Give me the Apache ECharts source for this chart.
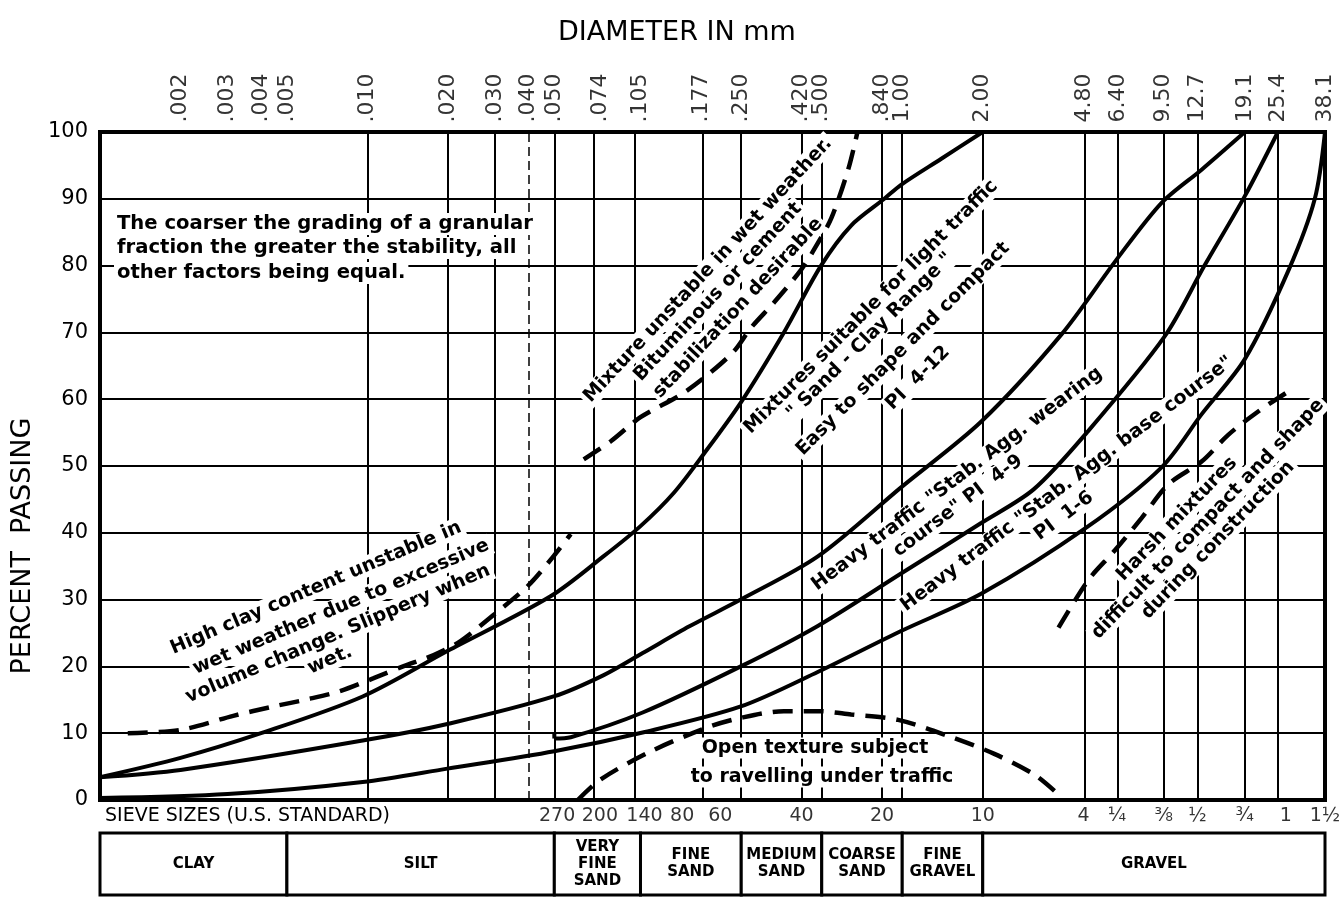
<!DOCTYPE html>
<html>
<head>
<meta charset="utf-8">
<title>Grading chart</title>
<script src="https://cdn.jsdelivr.net/npm/echarts@6/dist/echarts.min.js"></script>
<style>
  html, body { margin: 0; padding: 0; background: #fff; }
  #chart { width: 1343px; height: 897px; }
</style>
</head>
<body>
<div id="chart"></div>
<script>
// diameters (mm) marked along the top, one gridline each
const diameters = [0.002, 0.003, 0.004, 0.005, 0.010, 0.020, 0.030, 0.040, 0.050, 0.074, 0.105, 0.177,
  0.250, 0.420, 0.500, 0.840, 1.00, 2.00, 4.80, 6.40, 9.50, 12.7, 19.1, 25.4, 38.1]
const diameterLabels = ['.002', '.003', '.004', '.005', '.010', '.020', '.030', '.040', '.050', '.074', '.105', '.177',
  '.250', '.420', '.500', '.840', '1.00', '2.00', '4.80', '6.40', '9.50', '12.7', '19.1', '25.4', '38.1']

// U.S. standard sieves under the axis
const sieveDiameters = [0.053, 0.074, 0.105, 0.177, 0.250, 0.420, 0.840, 2.00, 4.76, 6.35, 9.5, 12.7, 19.1, 25.4, 38.1]
const sieveLabels = ['270', '200', '140', '80', '60', '40', '20', '10', '4', '¼', '⅜', '½', '¾', '1', '1½']

// soil classes in the strip below
const classBounds = [0.001, 0.005, 0.05, 0.105, 0.25, 0.5, 1.0, 2.0, 38.1]
const classNames = ['CLAY', 'SILT', 'VERY\nFINE\nSAND', 'FINE\nSAND', 'MEDIUM\nSAND', 'COARSE\nSAND', 'FINE\nGRAVEL', 'GRAVEL']

// curves: [diameter mm, percent passing]
const sandClayUpper = [[0.001, 3.4], [0.002, 6.3], [0.004, 10], [0.0096, 15.5], [0.0199, 22.3], [0.0484, 30.5],
  [0.0765, 36.5], [0.105, 41], [0.14, 46], [0.181, 51.8], [0.249, 59.5], [0.361, 70], [0.497, 80], [0.644, 86],
  [0.857, 90], [0.99, 92.1], [1.4, 96], [2.0, 100]]
const wearingUpper = [[0.001, 3.4], [0.002, 4.5], [0.0096, 8.9], [0.0205, 11.5], [0.0497, 15.5], [0.0765, 18.7],
  [0.107, 22], [0.16, 26], [0.249, 30], [0.485, 36.5], [0.99, 46.8], [1.98, 56.7], [3.94, 69.7], [6.33, 80.9],
  [9.33, 89.4], [13.2, 94.4], [19.1, 100]]
const wearingHook = [[0.05, 10], [0.05, 9.2]]
const wearingLower = [[0.05, 9.2], [0.0576, 9.4], [0.107, 13.1], [0.249, 20], [0.485, 26.1], [0.99, 33.9],
  [1.98, 41.5], [3.1, 46.5], [4.9, 55], [9.58, 69.4], [13.5, 80], [19.1, 90.4], [25.4, 100]]
const baseLower = [[0.001, 0.3], [0.003, 0.9], [0.0096, 2.7], [0.0199, 4.7], [0.05, 7.3], [0.107, 10.1],
  [0.249, 14], [0.485, 19.2], [0.99, 25.3], [1.98, 30.9], [4.89, 40.8], [9.33, 49.8], [13.2, 57.8],
  [19.1, 66], [27.9, 79.4], [34.9, 90], [38.1, 100]]
const highClay = [[0.00127, 10], [0.002, 10.5], [0.00315, 12.6], [0.00445, 14], [0.006, 15.1], [0.0079, 16.3],
  [0.0105, 18.2], [0.0136, 20], [0.0177, 21.7], [0.0223, 23.8], [0.0296, 27.7], [0.0397, 32],
  [0.0497, 36.5], [0.0576, 39.8]]
const wetUnstable = [[0.0644, 51], [0.0813, 53.7], [0.105, 57.3], [0.149, 60.7], [0.188, 63.7], [0.235, 67.2],
  [0.272, 70.7], [0.332, 74.5], [0.419, 79.4], [0.476, 82.9], [0.543, 87.1], [0.628, 94.4], [0.68, 100]]
const openTexture = [[0.0612, 0], [0.0746, 3.1], [0.115, 7.3], [0.188, 10.9], [0.249, 12.3], [0.361, 13.3],
  [0.485, 13.3], [0.644, 12.8], [0.966, 12], [1.53, 9.4], [2.21, 6.9], [3.12, 3.8], [3.77, 1.1]]
const harsh = [[3.84, 25.8], [4.98, 33], [6.22, 37.3], [7.85, 42.2], [9.92, 47.3], [13.2, 50.7],
  [16.6, 54.7], [21.5, 58.2], [27.9, 61.2]]

const FONT = '"DejaVu Sans", sans-serif'

// small sideways shifts of crowded sieve numbers, px
const sieveNudge = {'270': -4, '140': 4, '80': -19, '60': -21, '1': 8}

// hand lettering on the sheet (pixel placement, rotation in degrees)
const notes = [
  {t: 'The coarser the grading of a granular', x: 114, y: 224, r: 0, a: 'left', s: 19.6},
  {t: 'fraction the greater the stability, all', x: 114, y: 248, r: 0, a: 'left', s: 19.6},
  {t: 'other factors being equal.', x: 114, y: 273, r: 0, a: 'left', s: 19.6},
  {t: 'High clay content unstable in', x: 316, y: 588, r: 23},
  {t: 'wet weather due to excessive', x: 341, y: 607, r: 23},
  {t: 'volume change. Slippery when', x: 338, y: 634, r: 23},
  {t: 'wet.', x: 330, y: 660, r: 23},
  {t: 'Mixture unstable in wet weather.', x: 708, y: 270, r: 47},
  {t: 'Bituminous or cement', x: 718, y: 292, r: 47},
  {t: 'stabilization desirable', x: 738, y: 308, r: 47},
  {t: 'Mixtures suitable for light traffic', x: 871, y: 307, r: 45},
  {t: '" Sand - Clay Range "', x: 870, y: 336, r: 45},
  {t: 'Easy to shape and compact', x: 903, y: 349, r: 45},
  {t: 'PI  4-12', x: 918, y: 378, r: 45},
  {t: 'Heavy traffic "Stab. Agg. wearing', x: 957, y: 479, r: 37},
  {t: 'course" PI  4-9', x: 958, y: 506, r: 37},
  {t: 'Heavy traffic "Stab. Agg. base course"', x: 1067, y: 484, r: 37},
  {t: 'PI  1-6', x: 1064, y: 516, r: 37},
  {t: 'Harsh mixtures', x: 1177, y: 519, r: 46},
  {t: 'difficult to compact and shape', x: 1208, y: 519, r: 46},
  {t: 'during construction', x: 1218, y: 540, r: 46},
  {t: 'Open texture subject', x: 815, y: 748, r: 0},
  {t: 'to ravelling under traffic', x: 822, y: 777, r: 0}
]

const chart = echarts.init(document.getElementById('chart'))

function curve(data, dashed) {
  return {
    type: 'line', data: data, smooth: 0.3, symbol: 'none', z: 10,
    silent: true, animation: false,
    lineStyle: {color: '#000', width: dashed ? 4.5 : 4, type: dashed ? [20, 11] : 'solid', cap: 'butt'}
  }
}

const plainText = (text, x, y, rot, size, align) => ({
  type: 'text', x: x, y: y, rotation: rot * Math.PI / 180, z: 6, silent: true,
  style: {text: text, x: 0, y: 0, align: align, verticalAlign: 'middle', fill: '#000',
    fontSize: size, fontFamily: 'DejaVu Sans'}
})

const option = {
  animation: false,
  backgroundColor: '#fff',
  title: {
    text: 'DIAMETER IN mm', left: 553, top: 14,
    textStyle: {fontSize: 27, fontWeight: 'normal', fontFamily: FONT, color: '#000'}
  },
  grid: [
    {left: 100, top: 132, width: 1225, height: 668, show: true, borderColor: '#000', borderWidth: 4},
    {left: 100, top: 833, width: 1225, height: 62}
  ],
  xAxis: [
    {type: 'log', gridIndex: 0, min: 0.001, max: 38.1, axisLine: {show: false}, axisTick: {show: false},
      axisLabel: {show: false}, splitLine: {show: false}},
    {type: 'log', gridIndex: 1, min: 0.001, max: 38.1, show: false}
  ],
  yAxis: [
    {
      type: 'value', gridIndex: 0, min: 0, max: 100, interval: 10,
      axisLine: {show: false}, axisTick: {show: false},
      axisLabel: {fontSize: 21, fontFamily: FONT, color: '#000', margin: 12},
      splitLine: {show: true, lineStyle: {color: '#000', width: 2}}
    },
    {type: 'value', gridIndex: 1, min: 0, max: 1, show: false}
  ],
  graphic: {
    elements: notes.map(n => ({
      type: 'text', x: n.x, y: n.y, rotation: n.r * Math.PI / 180, z: 6, silent: true,
      style: {
        text: n.t, x: 0, y: 0, align: n.a || 'center', verticalAlign: 'middle', fill: '#000',
        fontSize: n.s || 19, fontWeight: 'bold', fontFamily: 'DejaVu Sans',
        backgroundColor: '#fff', padding: [1, 3]
      }
    })).concat([
      plainText('SIEVE SIZES (U.S. STANDARD)', 105, 816, 0, 19, 'left'),
      plainText('PERCENT  PASSING', 23, 546, 90, 27, 'center')
    ])
  },
  series: [
    // vertical gridlines at the marked diameters
    {
      type: 'line', data: [], silent: true,
      markLine: {
        silent: true, symbol: ['none', 'none'], label: {show: false},
        lineStyle: {color: '#000', width: 2, type: 'solid'},
        emphasis: {disabled: true},
        data: diameters.map(d => d === 0.040
          ? {xAxis: d, lineStyle: {color: '#000', width: 1.5, type: [9, 5]}}
          : {xAxis: d})
      }
    },
    // diameter labels above the frame
    {
      type: 'scatter', silent: true, clip: false, symbolSize: 1, itemStyle: {color: 'transparent'},
      data: diameters.map((d, i) => ({name: diameterLabels[i], value: [d, 100]})),
      label: {
        show: true, formatter: '{b}', position: 'top', distance: 9, rotate: 90,
        align: 'left', verticalAlign: 'middle', fontSize: 22, fontFamily: FONT, color: '#000'
      }
    },
    // sieve numbers below the frame
    {
      type: 'scatter', silent: true, clip: false, symbolSize: 1, itemStyle: {color: 'transparent'},
      data: sieveDiameters.map((d, i) => ({
        name: sieveLabels[i], value: [d, 0],
        label: {offset: [sieveNudge[sieveLabels[i]] || 0, 0]}
      })),
      label: {
        show: true, formatter: '{b}', position: 'bottom', distance: 6,
        fontSize: 19, fontFamily: FONT, color: '#000'
      }
    },
    // soil class strip
    {
      type: 'line', xAxisIndex: 1, yAxisIndex: 1, data: [], silent: true,
      markArea: {
        silent: true,
        itemStyle: {color: '#fff', borderColor: '#000', borderWidth: 3},
        label: {show: true, position: 'inside', color: '#000', fontSize: 15, fontWeight: 'bold',
          fontFamily: FONT, lineHeight: 17},
        emphasis: {disabled: true},
        data: classNames.map((n, i) => [{name: n, xAxis: classBounds[i]}, {xAxis: classBounds[i + 1]}])
      }
    },
    curve(sandClayUpper, false),
    curve(wearingUpper, false),
    Object.assign(curve(wearingHook, false), {smooth: false}),
    curve(wearingLower, false),
    curve(baseLower, false),
    curve(highClay, true),
    curve(wetUnstable, true),
    curve(openTexture, true),
    curve(harsh, true)
  ]
}

chart.setOption(option)
</script>
</body>
</html>
